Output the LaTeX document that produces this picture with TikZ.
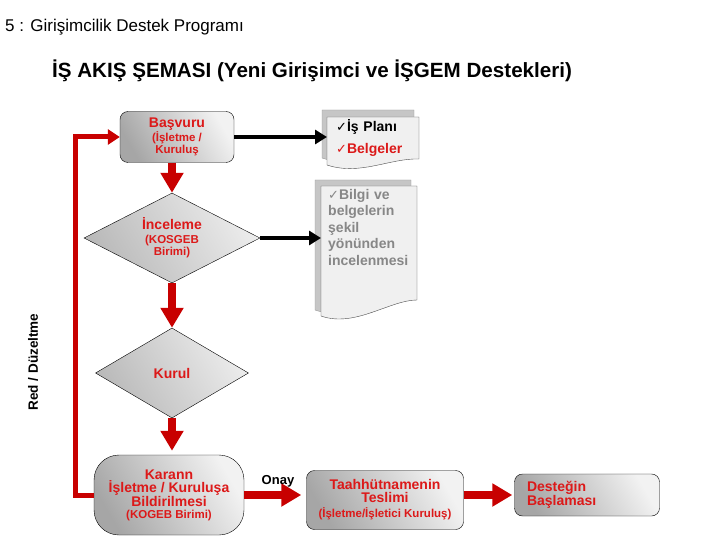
\documentclass[tikz,border=0pt]{standalone}
\usepackage{fontspec}
\setmainfont{Liberation Sans}
\newfontfamily\isaret{DejaVu Sans}
\usetikzlibrary{arrows.meta,shapes.geometric,positioning}
\definecolor{yazi}{RGB}{220,25,25}
\definecolor{koyu}{RGB}{200,0,0}
\definecolor{soluk}{RGB}{135,135,135}
\newcommand{\tik}{{\isaret\mdseries\fontsize{13}{13}\selectfont ✓}}
\newcommand{\buyuk}{\fontsize{14}{15}\selectfont\bfseries}
\newcommand{\kucuk}{\fontsize{11.5}{12}\selectfont\bfseries}

\begin{document}
\begin{tikzpicture}
[x=1pt,y=-1pt,
 kutu/.style={draw,rounded corners=8pt,left color=gray!70,right color=gray!10,shading angle=120,text=yazi,align=center,inner sep=2pt},
 karo/.style={draw,diamond,left color=gray!55,right color=gray!15,shading angle=120,text=yazi,align=center,inner sep=0pt},
 kirmiziok/.style={koyu,line width=8pt,-{Triangle[width=22pt,length=20pt]}},
 siyahok/.style={line width=4pt,-{Triangle[width=14pt,length=12pt]}},
 golge/.style={draw=gray!80,fill=gray!45},
 yaprak/.style={draw=black!70,fill=gray!12}]
\useasboundingbox (0,0) rectangle (720,540);

% basliklar
\node[anchor=west,inner sep=0pt,font=\fontsize{17}{17}\selectfont] (baslik) at (5,27) {5 : Girişimcilik Destek Programı};
\node[anchor=west,inner sep=0pt,font=\bfseries\fontsize{20.6}{21}\selectfont] (ana) at (52,71) {İŞ AKIŞ ŞEMASI (Yeni Girişimci ve İŞGEM Destekleri)};

% akis kutulari
\node[kutu,minimum width=114pt,minimum height=51pt] (basvuru) at (177,137)
	{\buyuk Başvuru\\\kucuk (İşletme /\\\kucuk Kuruluş};
\node[karo,aspect=2,minimum width=176pt,minimum height=90pt] (inceleme) at (172,238)
	{\buyuk İnceleme\\[2pt]\kucuk (KOSGEB\\\kucuk Birimi)};
\node[karo,aspect=1.7,minimum width=153pt,minimum height=90pt] (kurul) at (172,373) {\buyuk Kurul};
\node[kutu,rounded corners=25pt,minimum width=150pt,minimum height=80pt] (karar) at (169,495)
	{\fontsize{14}{13}\selectfont\bfseries Karann\\\fontsize{14}{13}\selectfont\bfseries İşletme / Kuruluşa\\
	 \fontsize{14}{13}\selectfont\bfseries Bildirilmesi\\\kucuk (KOGEB Birimi)};
\node[kutu,minimum width=157pt,minimum height=59pt] (taahhut) at (385,500)
	{\buyuk Taahhütnamenin\\[1pt]\buyuk Teslimi\\[3pt]\kucuk (İşletme/İşletici Kuruluş)};
\node[kutu,minimum width=145pt,minimum height=42pt,align=left,text width=120pt] (destek) at (587,495)
	{\buyuk Desteğin\\\buyuk Başlaması};

% belgeler
\draw[golge] (322,110) -- (414,110) -- (414,152) .. controls (385,151) and (355,169) .. (322,158) -- cycle;
\draw[yaprak] (327,117) -- (419,117) -- (419,159) .. controls (390,158) and (360,176) .. (327,165) -- cycle;
\node[anchor=north west,inner xsep=9pt,inner ysep=0pt,minimum height=42pt,text width=74pt,align=left,
	font=\fontsize{14}{22}\selectfont\bfseries] (plan) at (327,117)
	{\tik İş Planı\\\textcolor{yazi}{\tik Belgeler}};
\draw[golge] (315,180) -- (411,180) -- (411,294) .. controls (384,294) and (349,322) .. (315,310) -- cycle;
\draw[yaprak] (321,186) -- (417,186) -- (417,300) .. controls (390,300) and (355,328) .. (321,316) -- cycle;
\node[anchor=north west,inner xsep=7pt,inner ysep=3pt,text width=82pt,align=left,text=soluk,
	font=\fontsize{14}{16.5}\selectfont\bfseries] (bilgi) at (321,186)
	{\tik Bilgi ve\\belgelerin\\şekil\\yönünden\\incelenmesi};

% oklar
\draw[kirmiziok] (basvuru.south -| inceleme.north) -- (inceleme.north);
\draw[kirmiziok] (inceleme.south) -- (kurul.north);
\draw[kirmiziok,shorten >=4pt] (kurul.south) -- (kurul.south |- karar.north);
\draw[kirmiziok,shorten >=5pt] (karar.east) -- (karar.east -| taahhut.west);
\draw[kirmiziok,shorten >=2pt] (destek.west -| taahhut.east) -- (destek.west);
\node[font=\bfseries\fontsize{13}{13}\selectfont] (onay) at (278,481) {Onay};
\draw[siyahok] (basvuru.east) -- (basvuru.east -| plan.west);
\draw[siyahok] (inceleme.east) -- (inceleme.east -| bilgi.west);

% red donusu
\coordinate (donus) at (75,137);
\draw[koyu,line width=5pt,-{Triangle[width=15pt,length=12pt]}] (karar.west) -| (donus) -- (basvuru.west);
\node[rotate=90,font=\bfseries\fontsize{13.5}{14}\selectfont] (red) at (33,362) {Red / Düzeltme};
\end{tikzpicture}
\end{document}
